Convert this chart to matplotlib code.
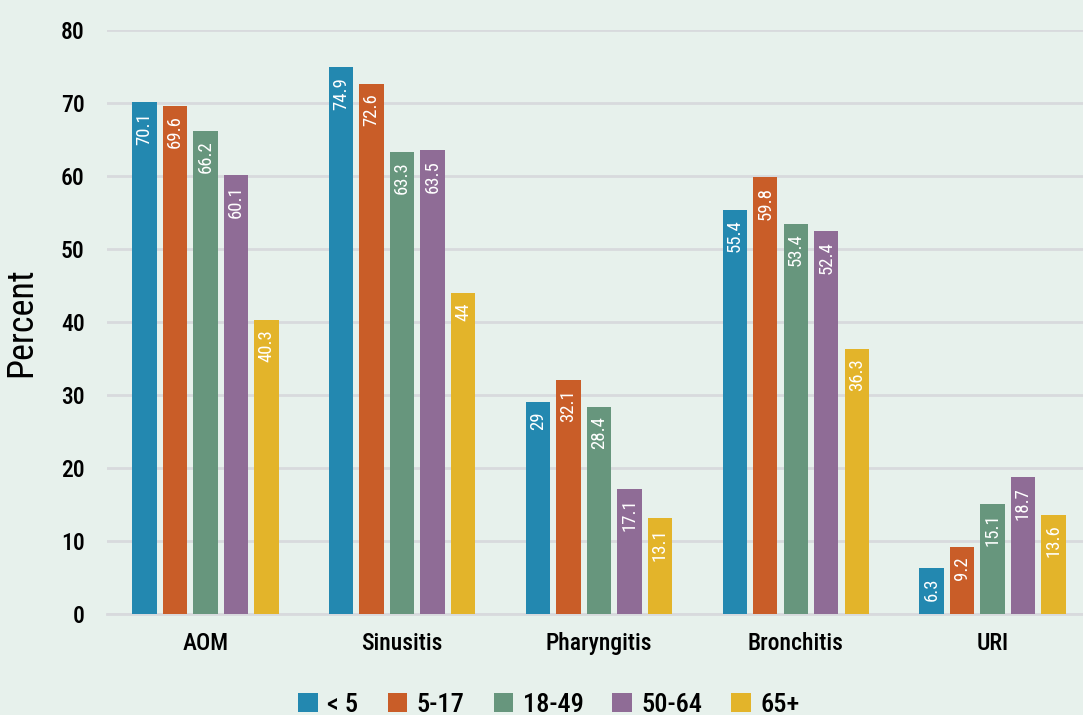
import matplotlib
matplotlib.use("Agg")
import matplotlib.pyplot as plt
import numpy as np

categories = ["AOM", "Sinusitis", "Pharyngitis", "Bronchitis", "URI"]
groups = ["< 5", "5-17", "18-49", "50-64", "65+"]
values = {
    "< 5":   [70.1, 74.9, 29, 55.4, 6.3],
    "5-17":  [69.6, 72.6, 32.1, 59.8, 9.2],
    "18-49": [66.2, 63.3, 28.4, 53.4, 15.1],
    "50-64": [60.1, 63.5, 17.1, 52.4, 18.7],
    "65+":   [40.3, 44, 13.1, 36.3, 13.6],
}
colors = ["#2388B0", "#C95D28", "#67967D", "#8F6C96", "#E3B42A"]

plt.rcParams['font.family'] = ['Roboto Condensed', 'DejaVu Sans']

bg = "#E7F1EC"
fig = plt.figure(figsize=(10.83, 7.15), dpi=100, facecolor=bg)
ax = fig.add_axes([107/1083, 1 - 614/715, 1 - 107/1083, (614 - 30)/715])
ax.set_facecolor(bg)

x = np.arange(len(categories))
step = 0.155
width = 0.124
for i, g in enumerate(groups):
    pos = x + (i - 2) * step
    bars = ax.bar(pos, values[g], width=width, color=colors[i], label=g, zorder=3)
    for b, v in zip(bars, values[g]):
        ax.text(b.get_x() + b.get_width() / 2, v - 1.3, f"{v:g}", rotation=90,
                ha="center", va="top", color="white", fontsize=13.5, zorder=4)

ax.set_xlim(-0.5, 4.46)
ax.set_ylim(0, 80)
ax.set_yticks(range(0, 81, 10))
ax.yaxis.grid(True, color="#D8DADD", linewidth=2, zorder=0)
ax.set_axisbelow(True)
for s in ["top", "right", "left"]:
    ax.spines[s].set_visible(False)
ax.spines["bottom"].set_color("#D8DADD")
ax.spines["bottom"].set_linewidth(2)
ax.tick_params(axis="both", length=0, labelsize=17)
ax.tick_params(axis="y", pad=16)
ax.set_xticks(x)
ax.set_xticklabels(categories)
ax.tick_params(axis="x", pad=13)
for t in ax.get_xticklabels() + ax.get_yticklabels():
    t.set_fontweight(500)
ax.set_ylabel("Percent", fontsize=26, fontweight=400, labelpad=16)

leg = fig.legend(loc="lower center", bbox_to_anchor=(0.507, -0.036), ncol=5, frameon=False,
                 prop={'family': 'Roboto Condensed', 'weight': 500, 'size': 19},
                 handlelength=0.75, handleheight=0.75, handletextpad=0.35,
                 columnspacing=1.1)

fig.savefig("out.png", dpi=100, facecolor=bg)
